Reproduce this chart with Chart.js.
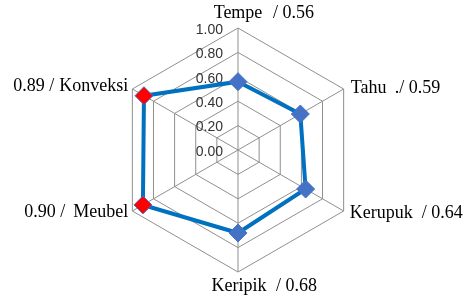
<!DOCTYPE html>
<html><head><meta charset="utf-8">
<script src="https://cdn.jsdelivr.net/npm/chart.js@4/dist/chart.umd.min.js"></script>
<style>html,body{margin:0;padding:0;background:#fff}#wrap{width:470px;height:300px}canvas{display:block}</style>
</head><body><div id="wrap"><canvas id="c"></canvas></div>
<script>
const categories = ['Tempe', 'Tahu', 'Kerupuk', 'Keripik', 'Meubel', 'Konveksi'];
const values = [0.56, 0.59, 0.64, 0.68, 0.90, 0.89];
const valuePrefixes = ['/ ', './ ', '/ ', '/ ', ' /', ' /'];
const tickValues = [0, 0.2, 0.4, 0.6, 0.8, 1.0];
const pointColors = ['#4472C4', '#4472C4', '#4472C4', '#4472C4', '#FF0000', '#FF0000'];

// label layout relative to each outer vertex (style only)
const labelLayout = [
  {side: 'top', dx: 0, dy: -15, vx: 35},
  {side: 'right', dx: 7, dy: -1, vx: 44},
  {side: 'right', dx: 6, dy: 2, vx: 72},
  {side: 'bottom', dx: 1, dy: 14, vx: 37},
  {side: 'left', dx: -4, dy: 1, gap: 8},
  {side: 'left', dx: -4, dy: -3, gap: 5}
];

const labelPlugin = {
  id: 'customLabels',
  beforeDatasetsDraw(chart) {
    const s = chart.scales.r, ctx = chart.ctx;
    ctx.save();
    ctx.font = '14px "Liberation Sans"';
    ctx.fillStyle = '#333333';
    ctx.textAlign = 'right';
    ctx.textBaseline = 'middle';
    tickValues.forEach(v => {
      const y = s.yCenter - s.getDistanceFromCenterForValue(v);
      ctx.fillText(v.toFixed(2), s.xCenter - 15, y + 2);
    });
    ctx.restore();
  },
  afterDraw(chart) {
    const s = chart.scales.r, ctx = chart.ctx;
    ctx.save();
    ctx.font = '18px "Liberation Serif"';
    ctx.fillStyle = '#000';
    ctx.textBaseline = 'middle';
    categories.forEach((name, i) => {
      const p = s.getPointPosition(i, s.drawingArea);
      const L = labelLayout[i];
      const x = p.x + L.dx, y = p.y + L.dy;
      const valTxt = values[i].toFixed(2);
      if (L.side === 'left') {
        ctx.textAlign = 'right';
        ctx.fillText(name, x, y);
        const w = ctx.measureText(name).width;
        ctx.fillText(valTxt + valuePrefixes[i], x - w - L.gap, y);
      } else if (L.side === 'right') {
        ctx.textAlign = 'left';
        ctx.fillText(name, x, y);
        ctx.fillText(valuePrefixes[i] + valTxt, x + L.vx, y);
      } else {
        ctx.textAlign = 'center';
        ctx.fillText(name, x, y);
        ctx.textAlign = 'left';
        ctx.fillText(valuePrefixes[i] + valTxt, x + L.vx, y);
      }
    });
    ctx.restore();
  }
};

new Chart(document.getElementById('c'), {
  type: 'radar',
  data: {
    labels: categories,
    datasets: [{
      data: values,
      borderColor: '#0070C0',
      borderWidth: 4,
      fill: false,
      pointStyle: 'rectRot',
      pointRadius: 9,
      pointHoverRadius: 9,
      pointBackgroundColor: pointColors,
      pointBorderColor: '#4472C4',
      pointBorderWidth: 1
    }]
  },
  options: {
    responsive: true,
    maintainAspectRatio: false,
    animation: false,
    layout: {padding: {left: 100, right: 94, top: 28, bottom: 28}},
    plugins: {legend: {display: false}, tooltip: {enabled: false}},
    scales: {
      r: {
        min: 0, max: 1,
        ticks: {stepSize: 0.2, display: false},
        grid: {color: '#8F8F8F', lineWidth: 1},
        angleLines: {color: '#8F8F8F', lineWidth: 1},
        pointLabels: {display: false}
      }
    }
  },
  plugins: [labelPlugin]
});
</script>
</body></html>
